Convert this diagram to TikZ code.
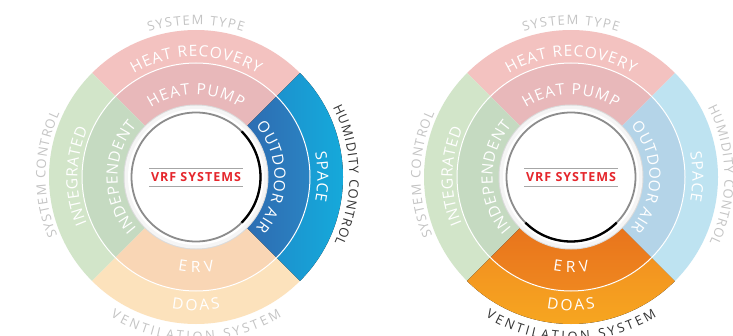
\documentclass[tikz,border=0pt]{standalone}
\usepackage{fontspec}
\setmainfont{Open Sans}
\usetikzlibrary{decorations.text}
\definecolor{pinkO}{HTML}{F3C2C0}
\definecolor{pinkI}{HTML}{E8B8BA}
\definecolor{greenO}{HTML}{D2E5C9}
\definecolor{greenI}{HTML}{C5DAC1}
\definecolor{peachO}{HTML}{FCE2BC}
\definecolor{peachI}{HTML}{F9D6B5}
\definecolor{skyO}{HTML}{BEE3F1}
\definecolor{skyI}{HTML}{B4D4E8}
\definecolor{blueOa}{HTML}{1C92CE}
\definecolor{blueOb}{HTML}{14AEDD}
\definecolor{blueIa}{HTML}{2C6DB2}
\definecolor{blueIb}{HTML}{2A86C5}
\definecolor{orngOa}{HTML}{F29220}
\definecolor{orngOb}{HTML}{F8AA20}
\definecolor{orngIa}{HTML}{E8741C}
\definecolor{orngIb}{HTML}{F08A20}
\definecolor{lblgray}{HTML}{C4C4C4}
\definecolor{lbldark}{HTML}{333333}
\definecolor{vrfred}{HTML}{E5262C}
\newcommand{\sector}[5]{%
  \fill[#1] (#2:#5) arc[start angle=#2,end angle=#3,radius=#5] -- (#3:#4) arc[start angle=#3,end angle=#2,radius=#4] -- cycle;}
\newcommand{\arctext}[5]{%
  \path[decorate,decoration={text along path,text align={fit to path},text={|#4|#5}}] (#2:#1) arc[start angle=#2,end angle=#3,radius=#1];}
\newcommand{\ringfont}{\fontsize{15.5}{17}\selectfont\color{white}}
\newcommand{\outfont}{\fontsize{13}{15}\selectfont}
\newcommand{\centredisk}[1]{%
  \fill[black!14] (0,0) circle (72.5);
  \fill[black!4] (0,0) circle (71.5);
  \fill[white] (0,0) circle (68);
  \draw[black!45, line width=1.8pt] (0,0) circle (64.5);
  \draw[black, line width=2.3pt] (#1+45:64.5) arc[start angle=#1+45,end angle=#1-45,radius=64.5];
}
\newcommand{\ringlabels}[2]{%
  \arctext{152.5}{108}{72}{\outfont\color{lblgray}}{SYSTEM TYPE}
  \arctext{120.5}{121}{59}{\ringfont}{HEAT RECOVERY}
  \arctext{82.5}{123}{57}{\ringfont}{HEAT PUMP}
  \arctext{118.5}{203}{156}{\ringfont}{INTEGRATED}
  \arctext{78.5}{221}{139}{\ringfont}{INDEPENDENT}
  \arctext{78.5}{40.5}{-40.5}{\ringfont}{OUTDOOR AIR}
  \arctext{121.5}{11.5}{-11.5}{\ringfont}{SPACE}
  \arctext{153.5}{27}{-25.5}{\outfont\color{#1}}{HUMIDITY CONTROL}
  \arctext{150.5}{203}{155}{\outfont\color{lblgray}}{SYSTEM CONTROL}
  \arctext{95.5}{259}{281}{\ringfont}{ERV}
  \arctext{133.5}{259.5}{280.5}{\ringfont}{DOAS}
  \arctext{164}{238.5}{301.5}{\outfont\color{#2}}{VENTILATION SYSTEM}
}
\begin{document}
\begin{tikzpicture}[x=1pt,y=1pt]
\useasboundingbox (0,0) rectangle (733,335);
\fill[white] (0,0) rectangle (733,335);
% ---------- left diagram: humidity control highlighted
\begin{scope}[shift={(196,158)}]
  \sector{pinkO}{45}{135}{113}{147}
  \sector{pinkI}{45}{135}{70}{114}
  \sector{greenO}{135}{225}{113}{147}
  \sector{greenI}{135}{225}{70}{114}
  \sector{peachO}{225}{315}{113}{147}
  \sector{peachI}{225}{315}{70}{114}
  \sector{left color=blueOa,right color=blueOb}{-45}{45}{113}{147}
  \sector{left color=blueIa,right color=blueIb}{-45}{45}{70}{114}
  \draw[white, line width=1pt] (0,0) circle (114);
  \centredisk{0}
  \ringlabels{lbldark}{lblgray}
  \draw[black!35, line width=0.8pt] (-47,9) -- (47,9);
  \draw[black!35, line width=0.8pt] (-47,-9) -- (47,-9);
  \node[text=vrfred, font=\fontsize{12.5}{14}\selectfont\bfseries\addfontfeature{LetterSpace=8}, inner sep=0pt] (vrfL) at (0,0) {VRF SYSTEMS};
\end{scope}
% ---------- right diagram: ventilation system highlighted
\begin{scope}[shift={(571,158)}]
  \sector{pinkO}{45}{135}{113}{147}
  \sector{pinkI}{45}{135}{70}{114}
  \sector{greenO}{135}{225}{113}{147}
  \sector{greenI}{135}{225}{70}{114}
  \sector{top color=orngOa,bottom color=orngOb}{225}{315}{113}{147}
  \sector{top color=orngIa,bottom color=orngIb}{225}{315}{70}{114}
  \sector{skyO}{-45}{45}{113}{147}
  \sector{skyI}{-45}{45}{70}{114}
  \draw[white, line width=1pt] (0,0) circle (114);
  \centredisk{270}
  \ringlabels{lblgray}{lbldark}
  \draw[black!35, line width=0.8pt] (-47,9) -- (47,9);
  \draw[black!35, line width=0.8pt] (-47,-9) -- (47,-9);
  \node[text=vrfred, font=\fontsize{12.5}{14}\selectfont\bfseries\addfontfeature{LetterSpace=8}, inner sep=0pt] (vrfR) at (0,0) {VRF SYSTEMS};
\end{scope}
\end{tikzpicture}
\end{document}
